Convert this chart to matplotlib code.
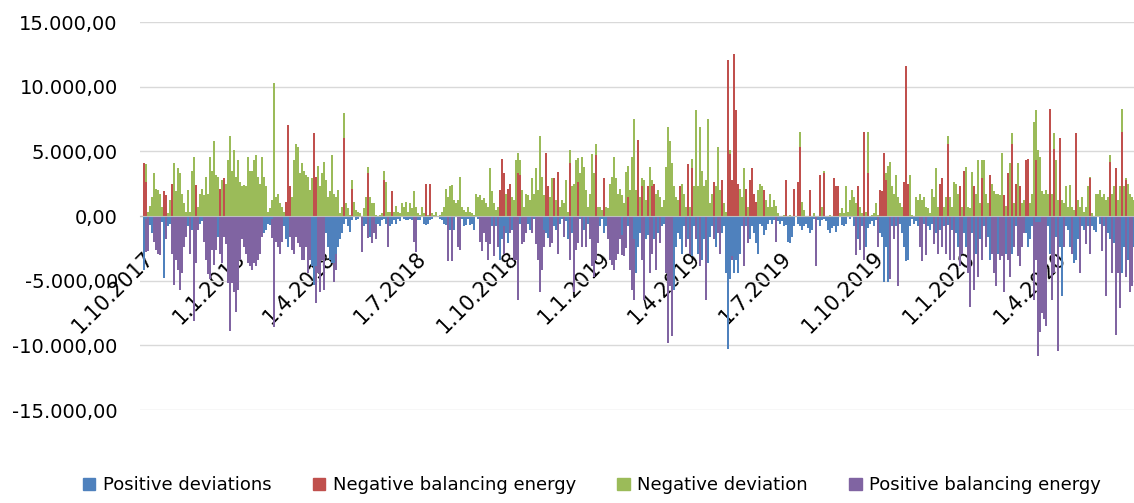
import numpy as np
import pandas as pd
import matplotlib
matplotlib.use("Agg")
import matplotlib.pyplot as plt
import matplotlib.dates as mdates
from matplotlib.patches import Patch

# values in thousands, one bar per two days starting 1.10.2017
start = "2017-10-01"

neg_balancing = [
    4.1, 2.6, 0, 0, 0, 0, 0, 0, 0, 0,
    1.9, 1.6, 0, 0, 2.5, 0, 0, 0, 0, 0,
    0, 0, 0, 0, 0, 0, 2.4, 0, 0, 0,
    0, 0, 0, 0, 0, 0, 0, 0, 2.1, 0,
    2.9, 0, 0, 0, 0, 0, 0, 0, 0, 0,
    0, 0, 0, 0, 0, 0, 0, 0, 0, 0,
    0, 0, 0, 0, 0, 0, 0, 0, 0, 0,
    0, 1.1, 7.0, 2.3, 0, 0, 0, 0, 0, 0,
    0, 0, 0, 0, 0, 6.4, 3.0, 0, 0, 0,
    0, 0, 0, 0, 0, 0, 0, 0, 0, 0,
    6.0, 0, 0, 0, 2.1, 0, 0, 0, 0, 0,
    0, 0, 3.3, 0, 0, 0, 0, 0, 0, 0,
    2.8, 0, 0, 0, 1.9, 0, 0, 0, 0, 0,
    0, 0, 0, 0, 0, 0, 0, 0, 0, 0,
    0, 2.5, 0, 2.5, 0, 0, 0, 0, 0, 0,
    0, 0, 0, 0, 0, 0, 0, 0, 0, 0,
    0, 0, 0, 0, 0, 0, 0, 0, 0, 0,
    0, 0, 0, 0, 0, 0, 0, 0, 2.0, 4.4,
    3.3, 0, 2.1, 2.5, 0, 0, 0, 3.3, 3.2, 0,
    0, 0, 0, 0, 0, 0, 0, 0, 0, 0,
    0, 4.9, 2.3, 0, 0, 2.9, 0, 3.4, 0, 0,
    0, 0, 0, 4.1, 0, 0, 0, 2.6, 0, 0,
    0, 0, 0, 0, 0, 0, 4.7, 0, 0, 0,
    2.9, 0, 0, 0, 0, 0, 0, 0, 0, 0,
    0, 0, 1.5, 0, 0, 0, 0, 5.9, 0, 2.3,
    0, 0, 2.3, 0, 2.3, 2.5, 0, 0, 0, 0,
    0, 0, 0, 0, 0, 0, 0, 0, 2.3, 0,
    0, 0, 4.0, 0, 3.7, 0, 0, 0, 0, 0,
    0, 0, 0, 0, 0, 2.6, 0, 0, 0, 2.8,
    0, 0, 12.1, 4.8, 2.8, 12.5, 8.2, 2.5, 0, 0,
    0, 2.1, 0, 2.8, 3.7, 1.7, 1.1, 0, 0, 0,
    2.0, 0, 0, 0, 0, 0, 0, 0, 0, 0,
    0, 2.8, 0, 0, 0, 2.1, 0, 2.6, 5.3, 0,
    0, 0, 0, 2.0, 0, 0, 0, 0, 3.2, 0,
    3.3, 0, 0, 0, 0, 2.9, 2.3, 2.3, 0, 0,
    0, 0, 0, 0, 0, 0, 0, 2.3, 0, 0,
    6.5, 0, 3.3, 0, 0, 0, 0, 0, 2.0, 1.9,
    4.9, 2.8, 0, 0, 0, 0, 0, 0, 0, 0,
    2.6, 11.6, 2.5, 0, 0, 0, 0, 0, 0, 0,
    0, 0, 0, 0, 0, 0, 0, 0, 2.5, 2.9,
    0, 0, 5.6, 0, 0, 0, 0, 0, 2.3, 0,
    3.5, 0, 0, 0, 0, 2.3, 0, 0, 0, 2.9,
    0, 0, 0, 3.2, 0, 0, 0, 0, 0, 0,
    1.6, 0, 3.3, 0, 5.6, 0, 2.5, 0, 2.3, 0,
    0, 4.3, 4.4, 0, 0, 0, 4.3, 0, 0, 0,
    0, 0, 0, 8.3, 0, 5.2, 0, 0, 6.0, 0,
    0, 0, 0, 0, 0, 0, 6.4, 0, 0, 0,
    0, 0, 0, 2.9, 0, 0, 0, 0, 0, 0,
    0, 0, 0, 4.2, 0, 0, 3.7, 0, 0, 6.5,
    0, 2.8, 0, 0, 0, 0,
]

neg_deviation = [
    0, 1.4, 0.3, 0.8, 1.5, 3.3, 2.1, 2.0, 1.7, 0.7,
    0, 0, 0.2, 1.2, 0, 4.1, 1.9, 3.7, 3.3, 1.7,
    1.0, 0.3, 2.0, 0.3, 3.5, 4.6, 0, 0.7, 1.7, 2.1,
    1.6, 3.0, 1.7, 4.6, 3.5, 5.8, 3.2, 3.0, 0, 2.8,
    0, 2.5, 4.3, 6.2, 3.5, 5.1, 3.0, 4.3, 2.6, 2.3,
    2.4, 2.3, 4.6, 3.5, 3.5, 4.3, 4.7, 3.0, 2.5, 4.6,
    3.0, 2.3, 0.3, 0.6, 1.2, 10.3, 1.5, 1.7, 1.0, 0.7,
    0.3, 0, 0, 0, 1.5, 4.3, 5.6, 5.3, 3.3, 4.1,
    3.5, 3.2, 3.0, 2.0, 2.9, 0, 0, 3.9, 2.3, 3.3,
    4.2, 2.8, 1.5, 1.9, 4.7, 1.7, 1.5, 2.0, 0.2, 0.7,
    2.0, 1.0, 0.6, 0.1, 0.7, 1.1, 0.5, 0.3, 0.2, 0,
    0.6, 1.5, 0.5, 1.5, 1.0, 1.0, 0.1, 0, 0.1, 0.2,
    0.7, 2.6, 0.3, 0.3, 0, 0.3, 0.8, 0.3, 0.2, 1.0,
    0.7, 1.1, 0.3, 1.0, 0.6, 1.9, 0.7, 0.2, 0.1, 0.7,
    0.2, 0, 0.1, 0, 0.2, 0.1, 0.3, 0, 0.1, 0.3,
    0.7, 2.1, 1.5, 2.3, 2.4, 1.2, 1.0, 1.2, 3.0, 0.7,
    0.5, 0.3, 0.7, 0.3, 0.2, 0.1, 1.7, 1.5, 1.6, 1.2,
    1.4, 1.0, 0.7, 3.7, 1.9, 1.0, 0.5, 0.7, 0, 0,
    0, 1.7, 0, 0, 1.5, 1.2, 4.3, 1.6, 1.1, 2.0,
    0.7, 1.7, 1.6, 1.2, 2.9, 1.7, 3.7, 2.0, 6.2, 3.0,
    1.6, 0, 0, 1.5, 2.9, 0, 1.2, 0, 0.7, 1.2,
    1.0, 2.8, 0.3, 1.0, 2.3, 2.5, 4.3, 1.9, 3.3, 4.6,
    3.8, 2.0, 0.7, 1.7, 4.8, 3.3, 0.9, 0.7, 0.7, 0.5,
    0, 0.7, 0.6, 2.5, 3.0, 4.6, 2.9, 1.7, 2.1, 1.6,
    1.0, 3.4, 2.4, 2.0, 4.6, 7.5, 2.0, 0, 1.5, 0.6,
    2.8, 1.2, 0, 3.8, 0.5, 0, 1.7, 2.0, 1.5, 0.7,
    1.2, 3.8, 6.9, 5.8, 4.1, 2.3, 1.5, 1.2, 0, 2.5,
    1.7, 0.7, 0, 0.7, 0.7, 2.3, 8.2, 2.3, 6.9, 3.5,
    2.3, 2.8, 7.5, 1.0, 1.7, 0, 2.3, 5.3, 2.0, 0,
    1.0, 0.3, 0, 0.3, 0, 0, 0, 0, 2.1, 1.5,
    3.7, 0, 0.7, 0, 0, 0, 0, 2.0, 2.5, 2.3,
    0, 1.2, 0.7, 1.7, 0.7, 1.2, 0.8, 0.2, 0, 0,
    0.1, 0, 0, 0.1, 0, 0, 0, 0, 1.2, 1.1,
    0.5, 0, 0, 0, 0, 0.2, 0, 0, 0, 0.7,
    0.2, 0, 0, 0.1, 0, 0, 0, 0, 0.2, 0.6,
    0.2, 2.3, 0.3, 1.2, 2.0, 1.5, 1.0, 0, 0.7, 0.2,
    0, 0.3, 3.2, 0, 0.1, 0.2, 1.0, 0.1, 0, 0,
    0, 0.5, 3.9, 4.2, 2.3, 1.7, 3.2, 1.5, 1.0, 0.7,
    0, 0, 0, 3.2, 0.1, 0, 1.5, 1.2, 1.7, 1.2,
    1.5, 0.7, 0.6, 0.2, 2.1, 1.5, 3.7, 0.7, 0, 0,
    0.7, 1.5, 0.6, 1.5, 0.7, 2.6, 2.5, 1.7, 0, 0.7,
    0, 3.8, 0.7, 0.6, 3.4, 0, 1.7, 4.3, 1.0, 1.4,
    4.3, 1.7, 1.0, 0, 2.5, 1.9, 1.7, 1.7, 1.6, 4.9,
    0, 0.8, 0, 4.1, 0.8, 1.0, 0, 4.1, 0, 1.0,
    1.2, 0, 0, 1.0, 1.7, 7.3, 3.9, 5.1, 4.6, 1.9,
    1.7, 2.0, 1.7, 0, 1.7, 1.2, 4.3, 1.2, 0, 1.2,
    1.0, 2.3, 0.7, 2.4, 0.7, 0.5, 0, 1.2, 0.7, 1.5,
    0.3, 0.7, 2.3, 0.1, 0.2, 0, 1.7, 1.7, 2.0, 1.5,
    1.7, 1.2, 1.5, 0.5, 1.7, 2.3, 0, 1.2, 2.3, 1.8,
    2.3, 0.1, 2.5, 1.7, 1.5, 1.2,
]

pos_deviations = [
    4.2, 0.2, 0, 0.7, 1.3, 0, 0, 0, 0, 0.5,
    4.8, 0, 0.8, 0.6, 0, 0, 0, 0, 0, 0,
    0, 0, 0.8, 0, 1.1, 0, 0, 0, 0.6, 0.4,
    0, 0, 0, 0, 0, 0, 0, 1.6, 0, 0,
    0, 0, 0, 0, 0, 0, 0, 0, 0, 0,
    0, 0, 0, 0, 0, 0, 0, 0, 0, 0,
    1.3, 1.1, 0.6, 0.7, 0.2, 0, 0, 0, 0, 0,
    0.8, 1.8, 2.4, 0, 0, 0, 0, 0, 0, 0,
    0, 0, 0, 0, 3.9, 5.3, 3.9, 0, 0, 0,
    0, 1.3, 2.4, 3.4, 3.6, 3.6, 2.9, 2.4, 1.8, 1.3,
    0.6, 0.2, 0.8, 1.2, 0.3, 0.1, 0.3, 0.2, 0.1, 0,
    0.8, 0.6, 0, 1.6, 0, 0, 0.6, 0.6, 0.8, 0.3,
    0.2, 0.6, 0, 0.8, 0.6, 0.3, 0.6, 0.2, 0.4, 0.1,
    0.2, 0.3, 0.3, 0.2, 0.3, 0, 0, 0.3, 0.3, 0.1,
    0.6, 0.7, 0.6, 0.3, 0.2, 0, 0, 0.1, 0.2, 0.3,
    0.6, 0.7, 0, 1.1, 0, 1.1, 0.1, 0, 0, 0.2,
    0.8, 0.7, 0.2, 0.7, 0.6, 1.1, 0.1, 0.2, 0, 0,
    0, 0, 0, 0, 0.8, 0, 0.8, 0, 3.4, 1.8,
    0.8, 1.3, 2.1, 0, 1.1, 0, 0, 0, 0.6, 0,
    0, 0, 0.6, 1.1, 0, 0.2, 0, 0, 0, 0,
    1.1, 1.3, 1.7, 0, 0, 0.8, 1.1, 0, 0.6, 0.2,
    0, 0.4, 1.8, 0, 1.3, 0, 0, 0, 0.2, 0,
    1.1, 0, 0.6, 0, 0, 0, 0, 0, 0.8, 0.2,
    1.3, 0.8, 0, 0, 0, 0, 0, 0, 0, 1.5,
    0, 0, 0.8, 0, 0, 1.8, 4.4, 2.4, 1.3, 0,
    0, 1.8, 1.5, 0, 0, 1.8, 0, 1.3, 0, 0.8,
    0.6, 0, 0, 0, 0, 5.7, 2.4, 1.3, 1.8, 2.9,
    0.8, 0, 1.8, 0, 3.1, 0.8, 0, 2.9, 0, 3.4,
    1.8, 0, 3.6, 1.6, 0.8, 0, 2.4, 0, 0, 1.3,
    0.8, 4.4, 10.3, 4.9, 3.1, 4.4, 3.4, 4.4, 2.9, 0.8,
    0, 0.8, 0, 1.8, 0.8, 1.3, 2.1, 2.9, 0.6, 0.8,
    1.5, 1.1, 0.6, 0.3, 0.6, 0.3, 0, 0.4, 0.6, 0.4,
    0.8, 0.7, 2.0, 2.1, 1.6, 0.8, 0.1, 0.6, 0.8, 1.1,
    0.8, 0.6, 0.9, 1.3, 1.1, 0.2, 0, 0.3, 0.8, 0.3,
    0.2, 0.4, 1.1, 1.3, 0.9, 0.8, 1.2, 0.8, 0.1, 0.7,
    0.8, 0.6, 0.1, 0.2, 0.1, 0.8, 0, 1.8, 0, 0.8,
    0, 2.4, 0.9, 0.6, 0.4, 0.8, 0.3, 0, 1.3, 1.6,
    5.1, 2.4, 5.1, 0, 0.8, 0, 0.8, 0, 0.6, 1.3,
    2.4, 3.5, 3.4, 0.8, 0.2, 0.6, 0.4, 0.8, 0, 0,
    0.6, 0, 0.8, 1.1, 0.6, 0, 1.3, 0, 1.1, 0,
    0.8, 0, 0.7, 0, 1.1, 0, 1.3, 2.4, 0, 0,
    1.3, 2.4, 0, 0, 1.3, 0, 2.9, 0, 1.8, 0,
    0.8, 0, 1.6, 3.4, 0, 0, 0, 2.9, 0, 0,
    0, 2.9, 0, 0, 2.9, 0, 0.8, 0, 0, 0,
    0, 1.3, 2.4, 1.8, 0.8, 0, 0.5, 0.5, 0.5, 0,
    0, 0, 0.8, 2.9, 0, 0, 1.6, 0, 2.4, 6.2,
    0, 0.8, 1.1, 2.4, 0, 3.6, 3.4, 1.8, 0, 0.8,
    1.1, 0, 0.8, 0, 0.8, 1.1, 1.2, 0.1, 0.6, 0,
    0.8, 0, 1.3, 1.8, 0, 2.1, 0, 0, 0, 4.4,
    2.4, 0, 3.4, 0, 0, 2.4,
]

pos_balancing = [
    0, 2.6, 2.7, 0, 0, 2.0, 2.6, 2.9, 3.0, 0,
    0, 1.8, 0, 0, 2.9, 5.3, 3.4, 4.2, 5.7, 4.4,
    2.4, 1.6, 0, 2.9, 0, 8.1, 3.6, 1.1, 0, 0,
    2.0, 3.4, 4.5, 4.9, 2.6, 3.8, 2.6, 0, 2.9, 3.6,
    1.6, 2.2, 5.2, 8.9, 5.2, 5.9, 7.4, 5.7, 3.4, 1.8,
    2.4, 2.9, 3.6, 3.9, 4.2, 3.6, 3.9, 3.4, 2.9, 1.6,
    0, 0, 0, 0, 1.5, 8.6, 2.0, 2.4, 2.9, 2.0,
    0, 0, 0, 1.6, 2.6, 2.9, 1.6, 2.1, 2.4, 3.4,
    3.4, 2.4, 4.4, 3.4, 0, 0, 2.8, 4.4, 5.9, 3.4,
    5.7, 0, 0, 0, 0, 1.5, 1.3, 0, 0, 0,
    0, 0, 0, 0, 0, 0, 0, 0, 0, 2.8,
    0, 0, 1.7, 0, 2.1, 1.3, 1.2, 0, 0, 0,
    0, 0, 2.4, 0, 0, 0, 0, 0, 0, 0,
    0, 0, 0, 0, 0, 2.0, 2.8, 0, 0, 0,
    0, 0, 0, 0, 0, 0, 0, 0, 0, 0,
    0, 0, 3.5, 0, 3.5, 0, 0, 2.4, 2.6, 0,
    0, 0, 0, 0, 0, 0, 0, 0, 2.0, 2.7,
    1.3, 2.0, 3.4, 2.2, 0, 3.1, 0, 2.4, 0, 0,
    2.1, 0, 0, 1.3, 0, 3.4, 3.4, 6.5, 0, 2.2,
    2.0, 1.3, 0, 0, 1.3, 0, 2.2, 3.4, 5.9, 4.2,
    1.3, 0, 0, 2.4, 2.1, 0, 0, 2.9, 0, 0,
    1.6, 0, 0, 3.4, 0, 5.9, 2.6, 2.1, 0, 2.4,
    0, 2.4, 0, 1.8, 3.9, 4.7, 3.4, 2.1, 0, 0,
    0, 0, 1.8, 3.4, 3.8, 4.2, 3.4, 2.9, 1.8, 1.5,
    3.1, 2.5, 0, 4.2, 5.7, 4.7, 0, 0, 0, 3.4,
    6.5, 0, 0, 4.4, 2.9, 0, 4.2, 0, 2.1, 0,
    0, 4.4, 9.8, 5.4, 9.3, 0, 0, 0, 0, 0,
    0, 2.4, 0, 2.9, 0, 0, 1.8, 0, 3.9, 0,
    0, 6.5, 0, 0, 0, 1.8, 0, 1.3, 2.9, 0,
    0, 0, 0, 0, 0.3, 0, 0, 0, 0, 0,
    3.9, 0, 2.1, 0, 0, 0, 0, 0, 0, 0,
    0, 0, 0, 0, 0, 0, 2.0, 0, 0, 0,
    0, 0, 0, 0, 0, 0, 0, 0, 0, 0,
    0, 0, 0, 0, 0, 0, 3.9, 0, 0, 0,
    0, 0, 0, 0, 0, 0, 0, 0, 0, 0,
    0, 0, 0, 0, 0, 0, 3.0, 0, 2.6, 0,
    3.4, 0, 0, 0, 0, 0, 0, 2.4, 0, 0,
    0, 0, 0, 4.9, 0, 1.8, 0, 5.4, 0, 0,
    0, 0, 0, 0, 0, 0, 0, 0, 2.4, 3.5,
    0, 3.0, 0, 0, 0, 2.2, 0, 2.9, 0, 2.4,
    0, 2.9, 0, 3.4, 0, 3.4, 0, 0, 3.9, 2.9,
    0, 0, 4.4, 7.0, 0, 5.7, 0, 4.7, 0, 3.4,
    0, 2.4, 0, 0, 2.9, 4.4, 5.4, 0, 3.4, 3.1,
    5.9, 0, 3.4, 4.7, 0, 2.4, 0, 3.1, 3.9, 2.4,
    1.3, 0, 0, 0, 0, 6.5, 2.9, 10.3, 8.5, 7.5,
    8.0, 8.5, 0, 0, 6.5, 4.4, 0, 10.4, 0, 0,
    2.4, 0, 0, 0, 2.9, 0, 0, 0, 4.4, 0,
    0, 2.2, 0, 2.9, 0, 0, 0, 0, 0, 2.7,
    0, 6.2, 0, 0, 4.4, 0, 9.2, 4.4, 7.1, 0,
    0, 4.7, 0, 5.9, 5.4, 0,
]

legend_labels = ["Positive deviations", "Negative balancing energy",
                 "Negative deviation", "Positive balancing energy"]
colors = ["#4F81BD", "#C0504D", "#9BBB59", "#8064A2"]

red = np.array(neg_balancing) * 1000
green = np.array(neg_deviation) * 1000
blue = np.array(pos_deviations) * 1000
purple = np.array(pos_balancing) * 1000

n = len(green)
days = pd.date_range(start, periods=n, freq="2D")
x = mdates.date2num(days) + 1
t0 = mdates.date2num(pd.Timestamp(start))

fig = plt.figure(figsize=(11.34, 5.03), dpi=100)
ax = fig.add_axes([140 / 1134, 1 - 410 / 503, 1 - 140 / 1134, 388 / 503])

w = 1.15
ax.bar(x, red, width=w, color=colors[1], linewidth=0)
ax.bar(x, green, width=w, bottom=red, color=colors[2], linewidth=0)
ax.bar(x, -blue, width=w, color=colors[0], linewidth=0)
ax.bar(x, -purple, width=w, bottom=-blue, color=colors[3], linewidth=0)

ax.set_ylim(-15000, 15000)
ax.set_xlim(t0 - 3, t0 + 991)
yt = np.arange(-15000, 15001, 5000)
ax.set_yticks(yt)
ax.set_yticklabels([format(v, ",.2f").replace(",", "X").replace(".", ",").replace("X", ".") for v in yt])
ax.yaxis.grid(True, color="#D9D9D9", linewidth=1)
ax.set_axisbelow(True)

for s in ["top", "right", "left"]:
    ax.spines[s].set_visible(False)
ax.spines["bottom"].set_position(("data", 0))
ax.spines["bottom"].set_color("#BFBFBF")

quarters = pd.date_range("2017-10-01", "2020-04-01", freq="QS")
ax.set_xticks(mdates.date2num(quarters))
ax.set_xticklabels([f"{d.day}.{d.month}.{d.year}" for d in quarters])
ax.tick_params(axis="x", length=0, pad=23, labelsize=15)
ax.tick_params(axis="y", length=0, pad=16, labelsize=14)
for lab in ax.get_xticklabels():
    lab.set_rotation(45)
    lab.set_ha("right")
    lab.set_va("top")
    lab.set_rotation_mode("anchor")

handles = [Patch(color=c) for c in colors]
fig.legend(handles, legend_labels, loc="lower center", ncol=4, frameon=False,
           fontsize=13, handlelength=0.7, handleheight=0.7, handletextpad=0.4,
           columnspacing=2.3, bbox_to_anchor=(0.522, -0.015))

fig.savefig("out.png", dpi=100)
